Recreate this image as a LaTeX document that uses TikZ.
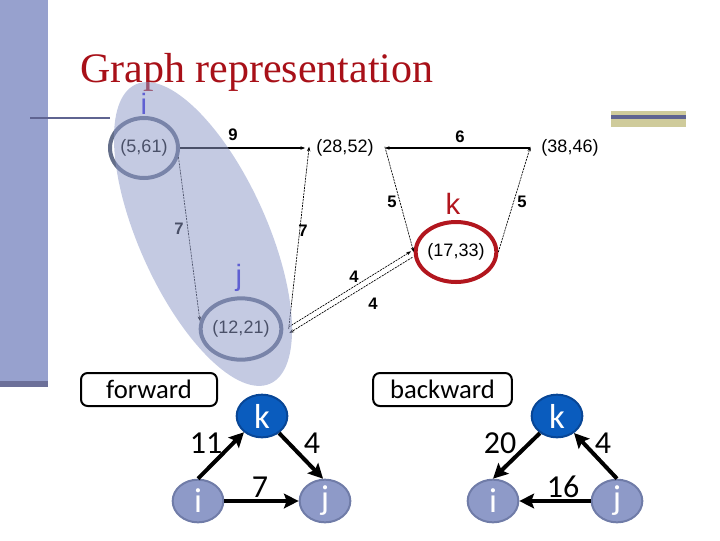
\documentclass[tikz,border=0pt]{standalone}
\usepackage{fontspec}
\setmainfont{Liberation Serif}
\newfontfamily\arialf{Liberation Sans}
\newfontfamily\calf{Carlito}
\usetikzlibrary{shapes.geometric,arrows.meta}
\definecolor{barcol}{RGB}{151,161,206}
\definecolor{bardark}{RGB}{108,112,153}
\definecolor{slate}{RGB}{95,100,145}
\definecolor{khaki}{RGB}{207,203,155}
\definecolor{titlered}{RGB}{168,16,24}
\definecolor{kred}{RGB}{178,22,30}
\definecolor{lblue}{RGB}{96,96,210}
\definecolor{vcirc}{RGB}{100,110,137}
\definecolor{blobcol}{RGB}{142,154,200}
\definecolor{kblue}{RGB}{10,92,190}
\definecolor{kblueb}{RGB}{8,70,150}
\definecolor{ngray}{RGB}{142,154,200}
\definecolor{ngrayb}{RGB}{112,124,168}
\tikzset{
  vert/.style={ellipse, draw=vcirc, line width=3pt, inner sep=0pt,
    font=\arialf\fontsize{13.5}{15}\selectfont},
  redvert/.style={vert, draw=kred},
  ptxt/.style={inner ysep=2pt, font=\arialf\fontsize{13.5}{15}\selectfont},
  elab/.style={inner sep=0pt, font=\arialf\bfseries\fontsize{12.5}{14}\selectfont},
  biglab/.style={inner sep=0pt, font=\arialf\fontsize{22}{26}\selectfont},
  thinedge/.style={line width=0.5pt, dash pattern=on 1.6pt off 0.7pt, -{Stealth[length=3.5pt,width=2.6pt]}},
  solidedge/.style={line width=0.8pt, -{Stealth[length=3.5pt,width=2.6pt]}},
  smallnode/.style={ellipse, line width=1.5pt, inner sep=0pt, text=white,
    minimum width=38pt, minimum height=32pt, font=\calf\fontsize{26}{30}\selectfont},
  knode/.style={smallnode, fill=kblue, draw=kblueb},
  gnode/.style={smallnode, fill=ngray, draw=ngrayb},
  bigarrow/.style={line width=3pt, -{Stealth[length=11pt,width=11pt,inset=2pt]}},
  blab/.style={inner sep=0pt, font=\calf\fontsize{24}{28}\selectfont},
  lbox/.style={draw, line width=1.5pt, rounded corners=5pt, minimum height=24.75pt,
    inner sep=0pt, font=\calf\fontsize{20}{24}\selectfont}
}
\begin{document}
\begin{tikzpicture}[x=0.75pt,y=-0.75pt]
\useasboundingbox (0,0) rectangle (720,540);
% decorations
\fill[barcol] (0,0) rectangle (48,383);
\fill[bardark] (0,381) rectangle (48,387);
\draw[slate, line width=2.2pt] (30,118) -- (110,118);
\fill[khaki] (611,111) rectangle (686,127);
\draw[slate, line width=3pt] (611,117) -- (686,117);
\node[anchor=base west, inner sep=0pt, text=titlered, font=\fontsize{31.5}{36}\selectfont] (title) at (80,82) {Graph representation};
% top graph vertices
\node[vert, minimum width=51pt, minimum height=45pt] (v561) at (144,148) {(5,61)};
\node[vert, minimum width=51pt, minimum height=46pt] (v1221) at (241,329) {(12,21)};
\node[redvert, minimum width=49.5pt, minimum height=45pt] (v1733) at (456,252) {(17,33)};
\node[ptxt, inner xsep=8.3pt] (v2852) at (345,148) {(28,52)};
\node[ptxt, inner xsep=8.1pt] (v3846) at (570,148) {(38,46)};
% top graph edges
\draw[solidedge] (v561.east) -- (v2852.west);
\draw[solidedge] (v3846.west) -- (v2852.east);
\draw[thinedge] (v561.-15) -- (v1221.169);
\draw[thinedge] ([xshift=4pt]v1221.east) -- ([xshift=3pt,yshift=1pt]v2852.west);
\draw[thinedge] ([yshift=1pt]v2852.east) -- (v1733.west);
\draw[thinedge] (v1733.east) -- ([yshift=1pt]v3846.west);
\draw[thinedge] ([shift={(4pt,1.5pt)}]v1221.east) -- ([shift={(-2pt,0.5pt)}]v1733.west);
\draw[thinedge] ([shift={(-1pt,-4pt)}]v1733.west) -- ([shift={(4.5pt,-3pt)}]v1221.east);
% edge labels
\node[elab] (l9) at (233,135) {9};
\node[elab] (l6) at (460,137) {6};
\node[elab] (l7a) at (179,229) {7};
\node[elab] (l7b) at (303,231) {7};
\node[elab] (l5a) at (392,202) {5};
\node[elab] (l5b) at (522,202) {5};
\node[elab] (l4a) at (354,277) {4};
\node[elab] (l4b) at (373,304) {4};
% blob
\begin{scope}[shift={(203,234)}, rotate=-65.8]
\fill[blobcol, fill opacity=0.52] (0,0) ellipse [x radius=164, y radius=64];
\end{scope}
% vertex letters
\node[biglab, text=lblue] (li) at (144,104) {i};
\node[biglab, text=lblue] (lj) at (239,278) {j};
\node[biglab, text=kred] (lk) at (453,204) {k};
% bottom boxes
\node[lbox, minimum width=102pt] (fwd) at (149,389.5) {forward};
\node[lbox, minimum width=104pt] (bwd) at (442.5,389.5) {backward};
% forward graph
\node[knode] (fk) at (262,416) {k};
\node[gnode] (fi) at (198,501) {i};
\node[gnode] (fj) at (325,501) {j};
\draw[bigarrow] (fi.north) -- (fk.222);
\draw[bigarrow] (fk.-45) -- (fj.95);
\draw[bigarrow] (fi.east) -- (fj.west);
\node[blab] (f11) at (206,443) {11};
\node[blab] (f4) at (312,443) {4};
\node[blab] (f7) at (260,487) {7};
% backward graph
\node[knode] (bk) at (557,416) {k};
\node[gnode] (bi) at (493,501) {i};
\node[gnode] (bj) at (617,501) {j};
\draw[bigarrow] (bk.-135) -- (bi.north);
\draw[bigarrow] (bj.north) -- (bk.-45);
\draw[bigarrow] (bj.west) -- (bi.east);
\node[blab] (b20) at (500,443) {20};
\node[blab] (b4) at (603,443) {4};
\node[blab] (b16) at (563,487) {16};
\end{tikzpicture}
\end{document}
